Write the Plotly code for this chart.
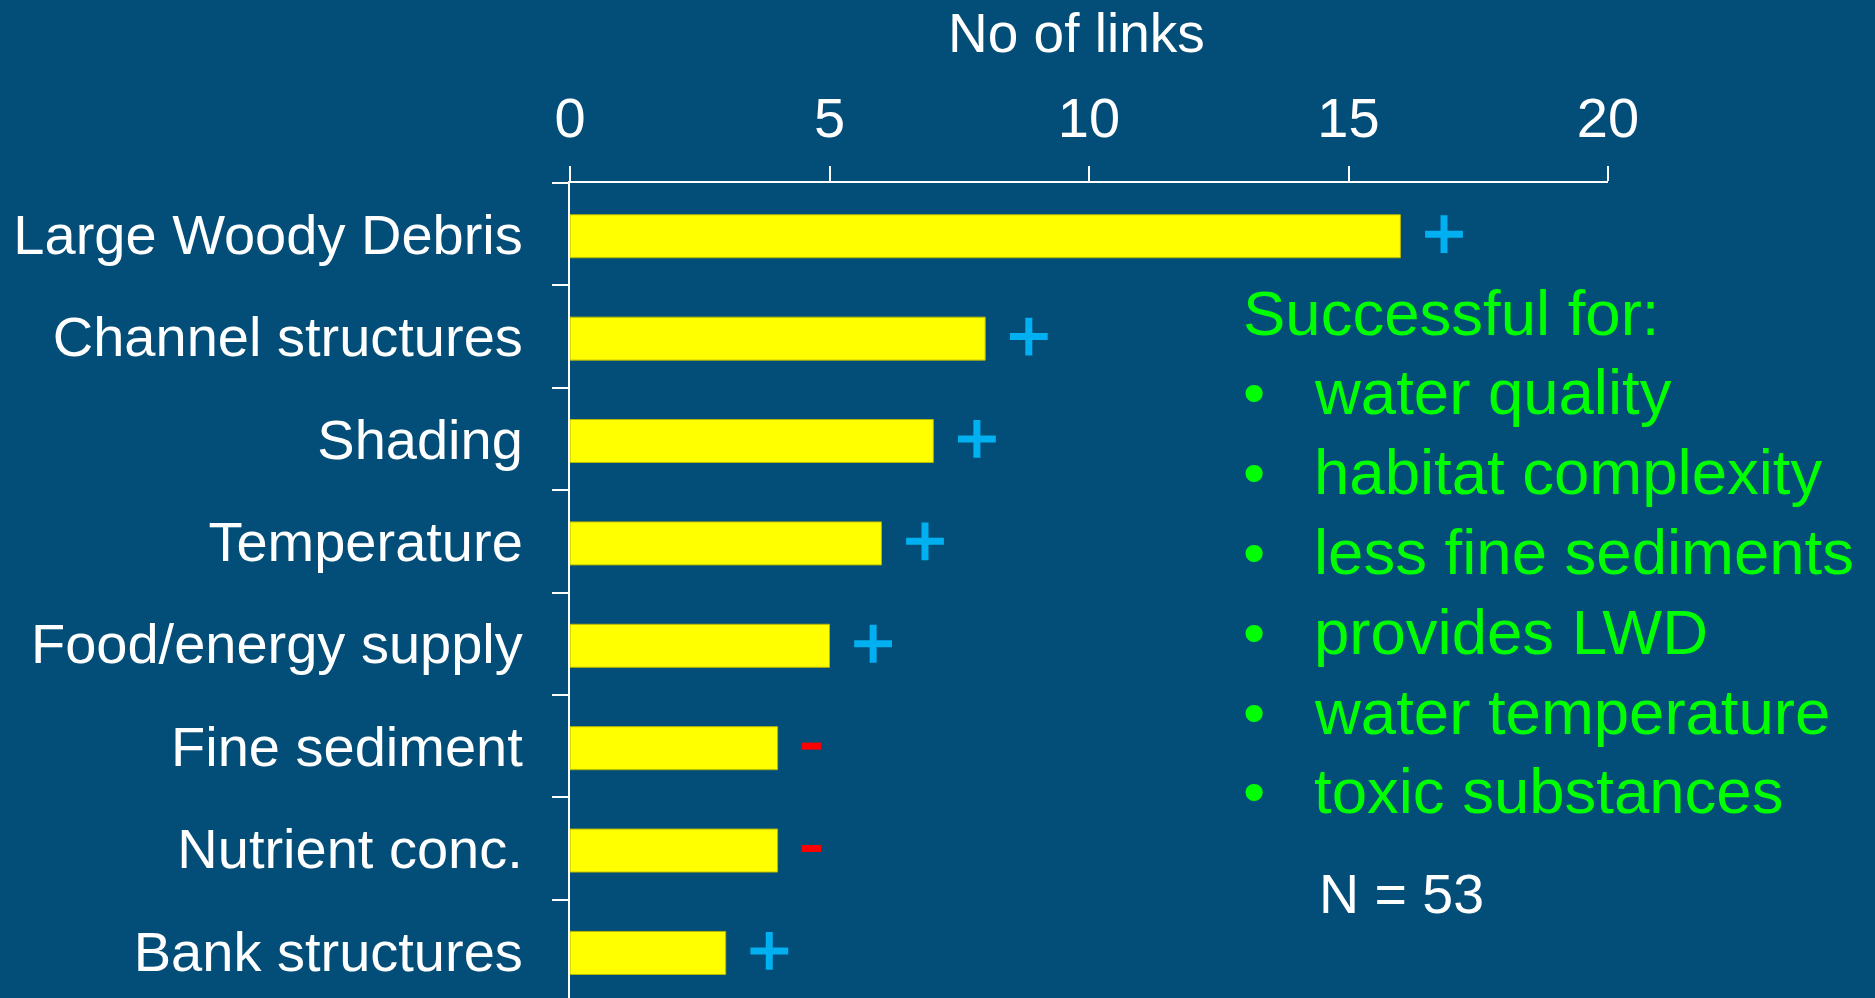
import plotly.graph_objects as go

# ---------------- data ----------------
categories = ["Large Woody Debris", "Channel structures", "Shading", "Temperature",
              "Food/energy supply", "Fine sediment", "Nutrient conc.", "Bank structures"]
links = [16, 8, 7, 6, 5, 4, 4, 3]
effect = ["+", "+", "+", "+", "+", "-", "-", "+"]
x_ticks = [0, 5, 10, 15, 20]
axis_title = "No of links"
success_title = "Successful for:"
success_items = ["water quality", "habitat complexity", "less fine sediments",
                 "provides LWD", "water temperature", "toxic substances"]
n_label = "N = 53"

# ---------------- layout helpers ----------------
W, H = 1875, 998
L, R, T, B = 570, 267, 183, 0
PW, PH = W - L - R, H - T - B
FONT = "Liberation Sans, Arial, sans-serif"
BG = "#034E78"


def px_x(px):
    return (px - L) / PW


def px_y(py):
    return (H - B - py) / PH


fig = go.Figure()
fig.add_trace(go.Bar(
    x=links, y=categories, orientation="h", width=0.42, offset=-0.19,
    marker=dict(color="#FFFF00", line=dict(color="#B8B800", width=1)),
    hoverinfo="skip"))

plus_x = [v + 0.84 for v, e in zip(links, effect) if e == "+"]
plus_y = [c for c, e in zip(categories, effect) if e == "+"]
minus_x = [v + 0.65 for v, e in zip(links, effect) if e == "-"]
minus_y = [c for c, e in zip(categories, effect) if e == "-"]

fig.add_trace(go.Scatter(
    x=plus_x, y=plus_y, mode="markers", hoverinfo="skip",
    marker=dict(symbol="cross-thin", size=27, color="#00B0F0",
                line=dict(color="#00B0F0", width=7))))
fig.add_trace(go.Scatter(
    x=minus_x, y=minus_y, mode="markers", hoverinfo="skip",
    marker=dict(symbol="line-ew", size=14, color="#FF0000",
                line=dict(color="#FF0000", width=7))))

fig.update_layout(
    width=W, height=H,
    margin=dict(l=L, r=R, t=T, b=B, pad=0),
    paper_bgcolor=BG, plot_bgcolor=BG,
    showlegend=False,
    xaxis=dict(side="top", range=[0, 20], tickvals=x_ticks, ticks="outside",
               ticklen=15, tickwidth=2, tickcolor="white", showline=True,
               linecolor="white", linewidth=2, showgrid=False, zeroline=False,
               ticklabelstandoff=7,
               tickfont=dict(family=FONT, size=56, color="white")),
    yaxis=dict(categoryorder="array", categoryarray=categories,
               range=[len(categories) - 0.54, -0.5], tickson="boundaries",
               ticks="outside", ticklen=16, tickwidth=2, tickcolor="white",
               showline=True, linecolor="white", linewidth=2, showgrid=False,
               zeroline=False, ticklabelstandoff=34,
               tickfont=dict(family=FONT, size=56, color="white")),
)

ann = []
ann.append(dict(text=axis_title, x=px_x(1076), y=px_y(52 - 0.3465 * 55),
                xref="paper", yref="paper", xanchor="center", yanchor="middle",
                showarrow=False, borderpad=0,
                font=dict(family=FONT, size=55, color="white")))
FS = 63.5
ann.append(dict(text=success_title, x=px_x(1242), y=px_y(335 - 0.3465 * FS),
                xref="paper", yref="paper", xanchor="left", yanchor="middle",
                showarrow=False, borderpad=0,
                font=dict(family=FONT, size=FS, color="#00FF00")))
for i, item in enumerate(success_items):
    cy = 414.5 + i * 79.8 - 0.3465 * FS
    ann.append(dict(text="•", x=px_x(1242), y=px_y(cy),
                    xref="paper", yref="paper", xanchor="left", yanchor="middle",
                    showarrow=False, borderpad=0,
                    font=dict(family=FONT, size=FS, color="#00FF00")))
    ann.append(dict(text=item, x=px_x(1313), y=px_y(cy),
                    xref="paper", yref="paper", xanchor="left", yanchor="middle",
                    showarrow=False, borderpad=0,
                    font=dict(family=FONT, size=FS, color="#00FF00")))
ann.append(dict(text=n_label, x=px_x(1318), y=px_y(913 - 0.3465 * 55),
                xref="paper", yref="paper", xanchor="left", yanchor="middle",
                showarrow=False, borderpad=0,
                font=dict(family=FONT, size=55.5, color="white")))
fig.update_layout(annotations=ann)

fig.write_html("out.html",
               config={"displayModeBar": False},
               post_script="document.body.style.margin='0';"
                           "document.body.style.overflow='hidden';")
